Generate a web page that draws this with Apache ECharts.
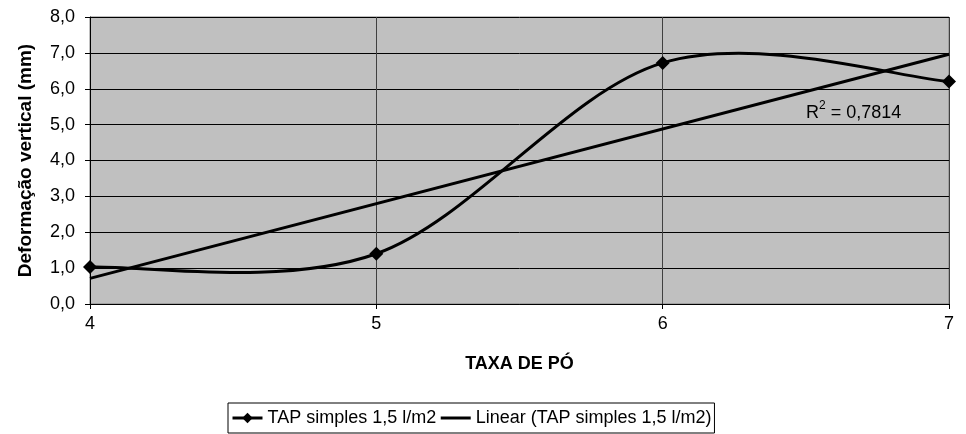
<!DOCTYPE html>
<html><head><meta charset="utf-8">
<script src="https://cdn.jsdelivr.net/npm/echarts@6/dist/echarts.min.js"></script>
<style>html,body{margin:0;padding:0;background:#fff}#c{width:966px;height:434px}</style>
</head><body><div id="c"></div>
<script>
const xValues = [4, 5, 6, 7];
const yValues = [1.03, 1.4, 6.72, 6.2];
const seriesName = 'TAP simples 1,5 l/m2';
const trendName = 'Linear (TAP simples 1,5 l/m2)';
const r2Text = '0,7814';

// least squares linear trend
const n = xValues.length;
const mx = xValues.reduce((a,b)=>a+b,0)/n;
const my = yValues.reduce((a,b)=>a+b,0)/n;
let sxy=0, sxx=0;
for (let i=0;i<n;i++){ sxy += (xValues[i]-mx)*(yValues[i]-my); sxx += (xValues[i]-mx)**2; }
const slope = sxy/sxx, icpt = my - slope*mx;
const xMin = 4, xMax = 7;
const trend = [[xMin, icpt+slope*xMin],[xMax, icpt+slope*xMax]];

const font = 'Liberation Sans, Arial, sans-serif';
const pts = xValues.map((x,i)=>[x,yValues[i]]);

// Excel-style smoothed curve: cubic Bezier segments with Catmull-Rom control points
function renderSegment(params, api){
  const i = params.dataIndex;
  if (i >= pts.length-1) return null;
  const P = k => api.coord(pts[Math.max(0,Math.min(pts.length-1,k))]);
  const p0=P(i-1), p1=P(i), p2=P(i+1), p3=P(i+2);
  const t = 1/6;
  return {type:'bezierCurve',
    shape:{x1:p1[0],y1:p1[1],x2:p2[0],y2:p2[1],
      cpx1:p1[0]+(p2[0]-p0[0])*t, cpy1:p1[1]+(p2[1]-p0[1])*t,
      cpx2:p2[0]-(p3[0]-p1[0])*t, cpy2:p2[1]-(p3[1]-p1[1])*t},
    style:{stroke:'#000',lineWidth:3,fill:null}};
}

const chart = echarts.init(document.getElementById('c'));
chart.setOption({
  animation:false,
  textStyle:{fontFamily:font},
  grid:{left:90,right:17,top:17,bottom:130,show:true,backgroundColor:'#C0C0C0',borderColor:'#808080',borderWidth:1},
  xAxis:{type:'value',min:xMin,max:xMax,interval:1,
    name:'TAXA DE PÓ',nameLocation:'middle',nameGap:51,
    nameTextStyle:{fontWeight:'bold',fontSize:18,color:'#000',fontFamily:font},
    axisLine:{show:true,onZero:false,lineStyle:{color:'#000',width:1}},
    axisTick:{show:true,length:5,lineStyle:{color:'#000'}},
    axisLabel:{fontSize:18,color:'#000',margin:11,fontFamily:font},
    splitLine:{show:true,lineStyle:{color:'#404040',width:1}}},
  yAxis:{type:'value',min:0,max:8,interval:1,
    name:'Deformação vertical (mm)',nameLocation:'middle',nameGap:55,
    nameTextStyle:{fontWeight:'bold',fontSize:19,color:'#000',fontFamily:font},
    axisLine:{show:true,lineStyle:{color:'#000',width:1}},
    axisTick:{show:true,length:5,lineStyle:{color:'#000'}},
    axisLabel:{fontSize:18,color:'#000',margin:15,fontFamily:font,formatter:v=>v.toFixed(1).replace('.',',')},
    splitLine:{show:true,lineStyle:{color:'#000',width:1}}},
  legend:{bottom:1,left:228,itemWidth:30,itemHeight:13,itemGap:3,
    borderColor:'#000',borderWidth:1,borderRadius:0,padding:[6,3,6,3],
    textStyle:{fontSize:18,color:'#000',fontFamily:font},
    data:[{name:seriesName,lineStyle:{width:3,color:'#000',opacity:1}},
          {name:trendName,itemStyle:{opacity:0},lineStyle:{width:3,color:'#000',opacity:1}}]},
  graphic:[{type:'text',left:806,top:100,style:{
    text:'{a|R}{s|2}{a| = '+r2Text+'}',
    rich:{a:{fontSize:18,fontFamily:font,fill:'#000',verticalAlign:'bottom'},
          s:{fontSize:12,fontFamily:font,fill:'#000',verticalAlign:'top',padding:[0,0,10,0]}}}}],
  series:[
    {name:'curve',type:'custom',renderItem:renderSegment,data:pts,z:3,silent:true},
    {name:seriesName,type:'line',data:pts,
     symbol:'diamond',symbolSize:14,itemStyle:{color:'#000'},lineStyle:{color:'#000',width:0,opacity:0},z:4},
    {name:trendName,type:'line',data:trend,symbol:'none',itemStyle:{color:'#000'},lineStyle:{color:'#000',width:3},z:2}
  ]
});
</script></body></html>
